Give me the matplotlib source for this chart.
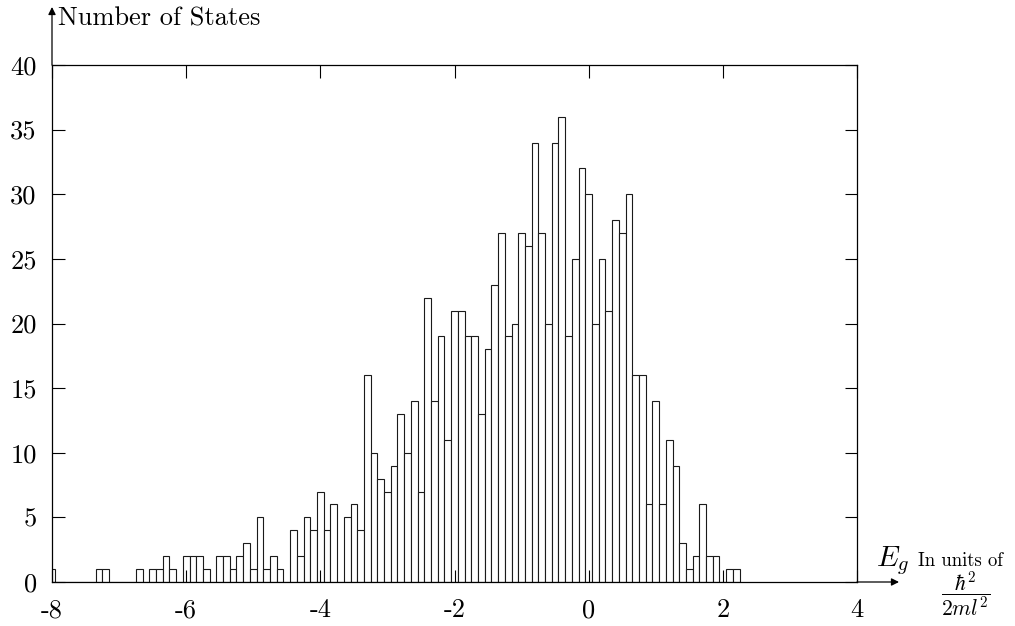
import matplotlib
matplotlib.use("Agg")
import matplotlib.pyplot as plt
import numpy as np

plt.rcParams['font.family'] = ['cmr10', 'DejaVu Serif']
plt.rcParams['mathtext.fontset'] = 'cm'
plt.rcParams['axes.formatter.use_mathtext'] = True

# bin centres (units of hbar^2/(2ml^2)), bin width 0.1
bin_centers = [round(-8.0 + 0.1 * i, 1) for i in range(103)]  # -8.0 ... 2.2
counts = [
    1, 0, 0, 0, 0, 0, 0, 1, 1, 0,      # -8.0 .. -7.1
    0, 0, 0, 1, 0, 1, 1, 2, 1, 0,      # -7.0 .. -6.1
    2, 2, 2, 1, 0, 2, 2, 1, 2, 3,      # -6.0 .. -5.1
    1, 5, 1, 2, 1, 0, 4, 2, 5, 4,      # -5.0 .. -4.1
    7, 4, 6, 0, 5, 6, 4, 16, 10, 8,    # -4.0 .. -3.1
    7, 9, 13, 10, 14, 7, 22, 14, 19, 11,  # -3.0 .. -2.1
    21, 21, 19, 19, 13, 18, 23, 27, 19, 20,  # -2.0 .. -1.1
    27, 26, 34, 27, 20, 34, 36, 19, 25, 32,  # -1.0 .. -0.1
    30, 20, 25, 21, 28, 27, 30, 16, 16, 6,   # 0.0 .. 0.9
    14, 6, 11, 9, 3, 1, 2, 6, 2, 2,          # 1.0 .. 1.9
    0, 1, 1,                                 # 2.0 .. 2.2
]
bin_width = 0.1

xticks = [-8, -6, -4, -2, 0, 2, 4]
xtick_labels = ["-8", "-6", "-4", "-2", "0", "2", "4"]
yticks = [0, 5, 10, 15, 20, 25, 30, 35, 40]
ytick_labels = ["0", "5", "10", "15", "20", "25", "30", "35", "40"]

W, H = 1015, 626
fig = plt.figure(figsize=(W / 100, H / 100), dpi=100)
ax = fig.add_axes([52 / W, 1 - 582 / H, (857 - 52) / W, (582 - 65) / H])

ax.bar(bin_centers, counts, width=bin_width, align='center',
       color='white', edgecolor='#1a1a1a', linewidth=0.8)

ax.set_xlim(-8, 4)
ax.set_ylim(0, 40)
ax.set_xticks(xticks)
ax.set_xticklabels(xtick_labels)
ax.set_yticks(yticks)
ax.set_yticklabels(ytick_labels)
ax.tick_params(direction='in', length=9, width=0.8, top=True, right=True,
               labelsize=19, colors='black')
ax.tick_params(axis='x', pad=12)
ax.tick_params(axis='y', pad=11)
for s in ax.spines.values():
    s.set_linewidth(0.9)
    s.set_color('black')

arrow = dict(arrowstyle='-|>', color='black', lw=0.9, mutation_scale=11,
             shrinkA=0, shrinkB=0)
ax.annotate('', xy=(0, (582 - 7) / (582 - 65)), xytext=(0, 1),
            xycoords='axes fraction', arrowprops=arrow, annotation_clip=False)
ax.annotate('', xy=(1 + (899 - 857) / (857 - 52), 0), xytext=(1, 0),
            xycoords='axes fraction', arrowprops=arrow, annotation_clip=False)

fig.text(58 / W, 1 - 26 / H, "Number of States", fontsize=19,
         ha='left', va='baseline')
fig.text(876 / W, 1 - 566 / H, r'$E_g$', fontsize=21, ha='left', va='baseline')
fig.text(918 / W, 1 - 566 / H, "In units of", fontsize=13.5, ha='left',
         va='baseline')
fig.text(966 / W, 1 - 594 / H, r'$\dfrac{\hbar^2}{2ml^2}$', fontsize=15.5,
         ha='center', va='center')

fig.savefig("out.png", dpi=100)
